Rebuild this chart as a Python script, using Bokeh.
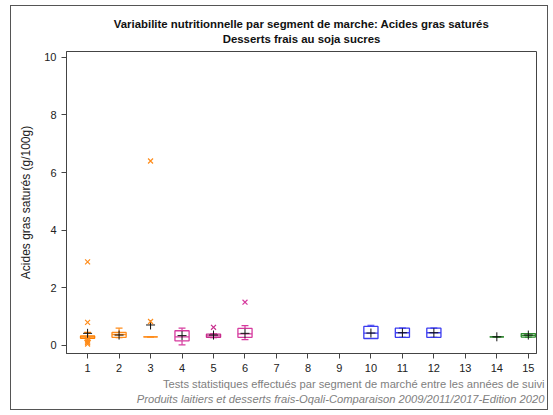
from bokeh.plotting import figure
from bokeh.models import Range1d, FixedTicker, Title, ColumnDataSource, LinearAxis
from bokeh.embed import file_html
from bokeh.resources import INLINE

# ---- data ----
segments = [1, 2, 3, 4, 5, 6, 10, 11, 12, 14, 15]
q1 = [0.25, 0.28, 0.30, 0.16, 0.28, 0.28, 0.24, 0.28, 0.28, 0.30, 0.29]
median = [0.30, 0.38, 0.30, 0.30, 0.33, 0.40, 0.43, 0.44, 0.44, 0.30, 0.35]
q3 = [0.33, 0.45, 0.30, 0.51, 0.39, 0.59, 0.66, 0.60, 0.60, 0.30, 0.41]
whisk_lo = [0.18, 0.27, 0.30, 0.02, 0.27, 0.20, 0.24, 0.28, 0.28, 0.30, 0.29]
whisk_hi = [0.45, 0.60, 0.30, 0.60, 0.40, 0.69, 0.70, 0.60, 0.60, 0.30, 0.41]
means = [0.42, 0.36, 0.71, 0.34, 0.36, 0.42, 0.43, 0.44, 0.44, 0.30, 0.36]
colors = ["#FF8000", "#FF8C1A", "#FF8C1A", "#D63A9E", "#C82C8C", "#D63A9E",
          "#3C3CF0", "#3C3CF0", "#3C3CF0", "#2E8B2E", "#2E8B2E"]
outlier_seg = [1, 1, 1, 1, 1, 1, 3, 3, 5, 6]
outlier_val = [2.9, 0.8, 0.15, 0.10, 0.05, 0.20, 6.4, 0.83, 0.63, 1.5]
outlier_col = ["#FF8C1A"] * 6 + ["#FF8C1A", "#FF8C1A", "#C82C8C", "#D63A9E"]
x_ticks = list(range(1, 16))
y_ticks = [0, 2, 4, 6, 8, 10]

title1 = "Variabilite nutritionnelle par segment de marche: Acides gras saturés"
title2 = "Desserts frais au soja sucres"
note1 = "Tests statistiques effectués par segment de marché entre les années de suivi"
note2 = "Produits laitiers et desserts frais-Oqali-Comparaison 2009/2011/2017-Edition 2020"

FONT = "Liberation Sans"
BOXW = 0.45
CAPW = 0.22

p = figure(width=538, height=405, output_backend="svg", toolbar_location=None,
           x_range=Range1d(0.33, 15.26), y_range=Range1d(-0.28, 10.2),
           min_border_left=55, min_border_right=13, min_border_top=45, min_border_bottom=58)
p.styles = {"border": "1px solid #555555", "margin-left": "10px", "margin-top": "5px"}
p.xgrid.visible = False
p.ygrid.visible = False
p.outline_line_color = "#444444"
p.outline_line_width = 1

for ax in (p.xaxis[0], p.yaxis[0]):
    ax.major_label_text_font = FONT
    ax.major_label_text_font_size = "11px"
    ax.major_label_text_color = "#222222"
    ax.axis_line_color = "#444444"
    ax.major_tick_line_color = "#444444"
    ax.minor_tick_line_color = None
    ax.major_tick_out = 5
    ax.major_tick_in = 0
p.xaxis.ticker = FixedTicker(ticks=x_ticks)
p.yaxis.ticker = FixedTicker(ticks=y_ticks)
p.yaxis.axis_label = "Acides gras saturés (g/100g)"
p.yaxis.axis_label_text_font = FONT
p.yaxis.axis_label_text_font_size = "12px"
p.yaxis.axis_label_text_font_style = "normal"
p.yaxis.axis_label_text_color = "#222222"
p.yaxis.axis_label_standoff = 8

src = ColumnDataSource(dict(
    x=segments, q1=q1, med=median, q3=q3, lo=whisk_lo, hi=whisk_hi, mean=means, c=colors,
    left=[s - BOXW / 2 for s in segments], right=[s + BOXW / 2 for s in segments],
    cl=[s - CAPW / 2 for s in segments], cr=[s + CAPW / 2 for s in segments],
))

p.segment(x0="x", y0="q3", x1="x", y1="hi", line_color="c", line_width=1.2, source=src)
p.segment(x0="x", y0="lo", x1="x", y1="q1", line_color="c", line_width=1.2, source=src)
p.segment(x0="cl", y0="hi", x1="cr", y1="hi", line_color="c", line_width=1.2, source=src)
p.segment(x0="cl", y0="lo", x1="cr", y1="lo", line_color="c", line_width=1.2, source=src)
p.quad(left="left", right="right", bottom="q1", top="q3", fill_color=None,
       line_color="c", line_width=1.3, source=src)
p.segment(x0="left", y0="med", x1="right", y1="med", line_color="c", line_width=1.3, source=src)
p.scatter(x="x", y="mean", marker="cross", size=9, line_color="#111111", line_width=1, source=src)
p.scatter(x=outlier_seg, y=outlier_val, marker="x", size=7, line_color=outlier_col, line_width=1.2)

# footnotes
p.add_layout(Title(text=note1, align="right", text_font=FONT, text_font_size="11.2px",
                   text_font_style="normal", text_color="#808080", standoff=2, offset=-8), "below")
p.add_layout(Title(text=note2, align="right", text_font=FONT, text_font_size="11.2px",
                   text_font_style="italic", text_color="#808080", standoff=1, offset=-8), "below")

# second title line carried by an empty top axis label
top_axis = LinearAxis(ticker=FixedTicker(ticks=[]), axis_label=title2,
                      axis_label_text_font=FONT, axis_label_text_font_size="11.4px",
                      axis_label_text_font_style="bold", axis_label_text_color="#111111",
                      axis_label_standoff=7, axis_line_color=None, major_tick_line_color=None,
                      minor_tick_line_color=None, major_tick_out=0, major_label_standoff=0,
                      major_label_text_font_size="1px")
p.add_layout(top_axis, "above")
p.add_layout(Title(text=title1, align="center", text_font=FONT,
                   text_font_size="11.4px", text_font_style="bold", text_color="#111111",
                   standoff=0), "above")

open("out.html", "w").write(file_html(p, INLINE))
